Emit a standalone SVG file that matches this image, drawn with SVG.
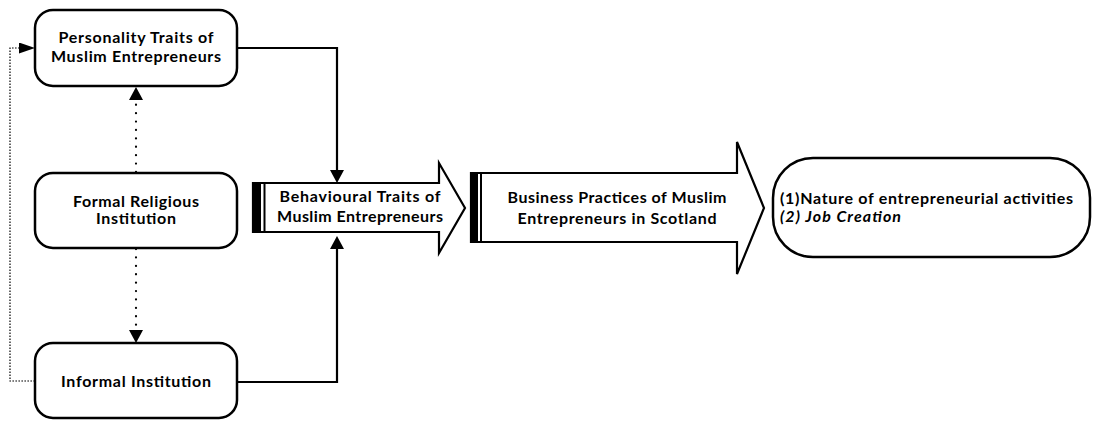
<svg xmlns="http://www.w3.org/2000/svg" width="1094" height="423" viewBox="0 0 1094 423">
<style>
.box{fill:#fff;stroke:#000;stroke-width:2.5}
.arr{fill:#fff;stroke:#000;stroke-width:2.2;stroke-linejoin:miter}
.lbl{font-family:Lato,"Liberation Sans",sans-serif;font-weight:bold;font-size:16px;fill:#000;text-anchor:middle}
.lft{text-anchor:start}
.solid{fill:none;stroke:#000;stroke-width:2.2}
.dots{fill:none;stroke:#000;stroke-width:2.2;stroke-linecap:round;stroke-dasharray:0.1 8.3}
.fine{fill:none;stroke:#000;stroke-width:1.2;stroke-dasharray:1.6 1.4}
</style>
<defs>
<marker id="ah" markerUnits="userSpaceOnUse" viewBox="0 -7 13 14" refX="0" refY="0" markerWidth="13" markerHeight="14" orient="auto"><path d="M0,-7 L13,0 L0,7 Z" fill="#000"/></marker>
<marker id="ahs" markerUnits="userSpaceOnUse" viewBox="0 -5.5 16 11" refX="0" refY="0" markerWidth="16" markerHeight="11" orient="auto"><path d="M0,-5.5 L16,0 L0,5.5 Z" fill="#000"/></marker>
</defs>
<rect width="1094" height="423" fill="#fff"/>

<g id="connectors">
<path class="solid" d="M237,48 H337 V170" marker-end="url(#ah)"/>
<path class="solid" d="M237,382 H337 V249" marker-end="url(#ah)"/>
<path class="dots" d="M136,172 V100" marker-end="url(#ah)"/>
<path class="dots" d="M136,249 V330" marker-end="url(#ah)"/>
<path class="fine" d="M35,381 H10 V48 H19" marker-end="url(#ahs)"/>
</g>

<g id="personality">
<rect class="box" x="35" y="10" width="202" height="76" rx="18"/>
<text class="lbl" x="136" y="43" textLength="155">Personality Traits of</text>
<text class="lbl" x="136" y="62" textLength="170">Muslim Entrepreneurs</text>
</g>
<g id="formal">
<rect class="box" x="35" y="173" width="202" height="75" rx="18"/>
<text class="lbl" x="136" y="207" textLength="126">Formal Religious</text>
<text class="lbl" x="136" y="224" textLength="80">Institution</text>
</g>
<g id="informal">
<rect class="box" x="35" y="343" width="202" height="75" rx="18"/>
<text class="lbl" x="136" y="387" textLength="150">Informal Institution</text>
</g>
<g id="behavioural">
<path class="arr" d="M253,183 H439 V163 L465,208 L439,253 V232 H253 Z"/>
<rect x="253" y="183" width="8" height="49" fill="#000"/>
<line x1="264.5" y1="183" x2="264.5" y2="232" stroke="#000" stroke-width="2"/>
<text class="lbl" x="360" y="201.5" textLength="161">Behavioural Traits of</text>
<text class="lbl" x="360" y="221.5" textLength="166">Muslim Entrepreneurs</text>
</g>
<g id="business">
<path class="arr" d="M471,173 H737 V142 L764,208 L737,274 V242 H471 Z"/>
<rect x="471" y="173" width="7" height="69" fill="#000"/>
<line x1="481" y1="173" x2="481" y2="242" stroke="#000" stroke-width="2"/>
<text class="lbl" x="617" y="203" textLength="219">Business Practices of Muslim</text>
<text class="lbl" x="617" y="224" textLength="199">Entrepreneurs in Scotland</text>
</g>
<g id="outcome">
<rect class="box" x="773" y="158" width="317" height="99" rx="40"/>
<text class="lbl lft" x="780" y="204" textLength="293">(1)Nature of entrepreneurial activities</text>
<text class="lbl lft" x="780" y="222" font-style="italic" textLength="121">(2) Job Creation</text>
</g>
</svg>
